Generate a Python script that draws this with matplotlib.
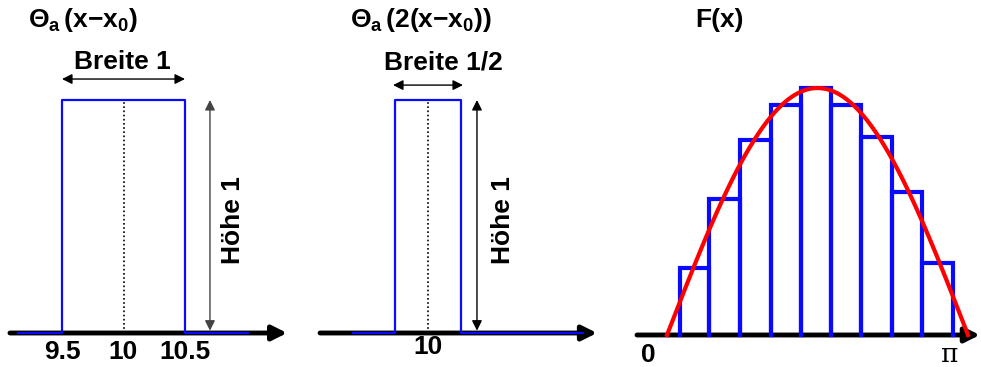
import numpy as np
import matplotlib
matplotlib.use("Agg")
import matplotlib.pyplot as plt

plt.rcParams.update({
    "font.family": ["Liberation Sans", "DejaVu Sans"],
    "font.weight": "bold",
    "mathtext.fontset": "custom",
    "mathtext.rm": "Liberation Sans",
    "mathtext.bf": "Liberation Sans:bold",
    "mathtext.it": "Liberation Sans:italic",
})

# ── data ────────────────────────────────────────────────
# panel 1 : Theta_a(x - x0), width 1
p1_left, p1_right, p1_height = 9.5, 10.5, 1.0
p1_ticks = [9.5, 10, 10.5]
p1_ticklabels = ["9.5", "10", "10.5"]

# panel 2 : Theta_a(2(x - x0)), width 1/2
p2_left, p2_right, p2_height = 9.75, 10.25, 1.0
p2_ticks = [10]
p2_ticklabels = ["10"]

# panel 3 : F(x) and step approximation
bar_edges = [0.136, 0.438, 0.762, 1.085, 1.399, 1.712, 2.025, 2.348, 2.661, 2.985]
bar_heights = [0.27, 0.55, 0.79, 0.93, 1.0, 0.93, 0.80, 0.58, 0.29]
f_x = np.linspace(0, np.pi, 300)
f_y = np.sin(f_x)          # F(x) = sin(x)

W, H = 981, 367
BLUE = "#0a0aff"
RED = "#ff0000"
FS = 19

fig = plt.figure(figsize=(W / 100, H / 100), dpi=100)


def panel(px0, px1):
    ax = fig.add_axes([px0 / W, 0, (px1 - px0) / W, 1])
    ax.axis("off")
    return ax


def axis_arrow(ax, x0, x1):
    ax.annotate("", xy=(x1, 0), xytext=(x0, 0), annotation_clip=False,
                arrowprops=dict(arrowstyle="-|>", lw=3.5, color="k",
                                mutation_scale=22, shrinkA=0, shrinkB=0),
                zorder=2)


def dbl_arrow(ax, p0, p1, color="k"):
    ax.annotate("", xy=p1, xytext=p0,
                arrowprops=dict(arrowstyle="<|-|>", lw=1.0, color=color,
                                mutation_scale=15, shrinkA=0, shrinkB=0))


# =============================================================
# Panel 1
# =============================================================
ax1 = panel(0, 300)
ax1.set_xlim(9.5 - 62 / 123, 9.5 + 238 / 123)
ax1.set_ylim(-34 / 233, 333 / 233)
axis_arrow(ax1, 9.077, 11.33)
ax1.plot([9.142, p1_left, p1_left, p1_right, p1_right, 11.012],
         [0, 0, p1_height, p1_height, 0, 0], color=BLUE, lw=1.6, zorder=3)
ax1.plot([10, 10], [0, p1_height], color="k", ls=(0, (1, 1.5)), lw=1.2)
dbl_arrow(ax1, (p1_left, 1.09), (p1_right, 1.09))
dbl_arrow(ax1, (10.703, 0.01), (10.703, p1_height), color="#444444")
ax1.text(9.99, 1.163, "Breite 1", ha="center", va="center", fontsize=FS)
ax1.text(10.89, 0.485, "Höhe 1", ha="center", va="center", fontsize=FS, rotation=90)
for t, lab in zip(p1_ticks, p1_ticklabels):
    ax1.text(t, -0.082, lab, ha="center", va="center", fontsize=FS)
ax1.text(9.224, 1.343, r"$\mathrm{\Theta}_{\mathbf{a}}\,\mathbf{(x{-}x_0)}$",
         ha="left", va="center", fontsize=FS)

# =============================================================
# Panel 2
# =============================================================
ax2 = panel(300, 620)
ax2.set_xlim(10 - 128 / 132, 10 + 192 / 132)
ax2.set_ylim(-34 / 233, 333 / 233)
axis_arrow(ax2, 9.182, 11.28)
ax2.plot([9.432, p2_left, p2_left, p2_right, p2_right, 11.174],
         [0, 0, p2_height, p2_height, 0, 0], color=BLUE, lw=1.6, zorder=3)
ax2.plot([10, 10], [0, p2_height], color="k", ls=(0, (1, 1.5)), lw=1.2)
dbl_arrow(ax2, (9.735, 1.064), (10.265, 1.064))
dbl_arrow(ax2, (10.371, 0.01), (10.371, p2_height))
ax2.text(10.114, 1.163, "Breite 1/2", ha="center", va="center", fontsize=FS)
ax2.text(10.568, 0.485, "Höhe 1", ha="center", va="center", fontsize=FS, rotation=90)
for t, lab in zip(p2_ticks, p2_ticklabels):
    ax2.text(t, -0.062, lab, ha="center", va="center", fontsize=FS)
ax2.text(9.409, 1.343, r"$\mathrm{\Theta}_{\mathbf{a}}\,\mathbf{(2(x{-}x_0))}$",
         ha="left", va="center", fontsize=FS)

# =============================================================
# Panel 3
# =============================================================
ax3 = panel(620, 981)
ax3.set_xlim(-47 * np.pi / 301, 314 * np.pi / 301)
ax3.set_ylim(-32 / 247, 335 / 247)
axis_arrow(ax3, -0.313, 3.265)
for l, r, h in zip(bar_edges[:-1], bar_edges[1:], bar_heights):
    ax3.plot([l, l, r, r], [0, h, h, 0], color=BLUE, lw=3, zorder=3,
             solid_joinstyle="miter")
ax3.plot(f_x, f_y, color=RED, lw=3, zorder=4)
ax3.text(0.543, 1.275, "F(x)", ha="center", va="center", fontsize=FS)
ax3.text(-0.198, -0.08, "0", ha="center", va="center", fontsize=FS)
ax3.text(2.954, -0.08, "π", ha="center", va="center", fontsize=FS,
         fontweight="normal", family=["DejaVu Serif"])

fig.savefig("out.png", dpi=100)
